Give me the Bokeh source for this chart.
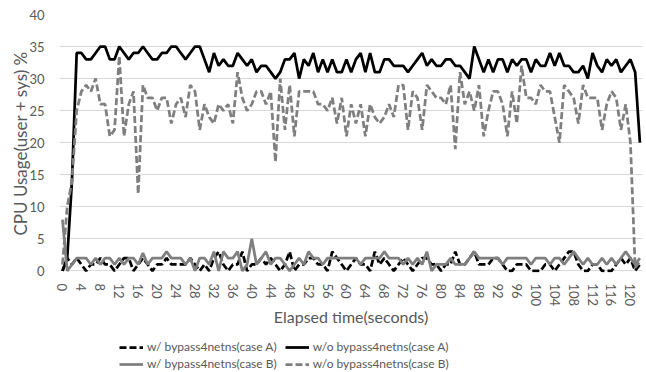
from bokeh.plotting import figure
from bokeh.models import Range1d, FixedTicker, Legend, LegendItem
from bokeh.layouts import column
from bokeh.embed import file_html
from bokeh.resources import INLINE

# elapsed time categories (seconds)
elapsed = list(range(0, 123))
x_tick_values = list(range(0, 121, 4))
y_tick_values = [0, 5, 10, 15, 20, 25, 30, 35, 40]

series_names = [
    "w/ bypass4netns(case A)",
    "w/o bypass4netns(case A)",
    "w/ bypass4netns(case B)",
    "w/o bypass4netns(case B)",
]

# w/ bypass4netns (case A)
with_a = [0, 2, 1, 2, 1, 0, 1, 1, 2, 1,
          1, 0, 1, 2, 2, 0, 1, 2, 1, 0,
          1, 1, 2, 1, 1, 1, 1, 2, 1, 0,
          1, 0, 2, 3, 1, 0, 1, 1, 3, 0,
          1, 1, 2, 1, 2, 1, 0, 1, 3, 0,
          1, 1, 2, 2, 1, 1, 0, 3, 2, 1,
          0, 1, 2, 1, 1, 0, 3, 1, 2, 1,
          0, 1, 2, 1, 0, 1, 2, 2, 1, 1,
          0, 1, 1, 3, 1, 1, 2, 3, 1, 1,
          1, 2, 2, 1, 0, 0, 1, 1, 1, 0,
          0, 0, 1, 1, 0, 1, 2, 3, 3, 1,
          0, 0, 1, 1, 0, 0, 0, 1, 2, 1,
          2, 0, 1]

# w/o bypass4netns (case A)
without_a = [0, 2, 14, 34, 34, 33, 33, 34, 35, 35,
             33, 33, 35, 34, 33, 34, 34, 35, 34, 33,
             33, 34, 34, 35, 35, 34, 33, 34, 35, 35,
             33, 31, 34, 32, 33, 32, 32, 34, 33, 32,
             33, 31, 32, 32, 31, 30, 31, 33, 33, 34,
             30, 33, 32, 34, 31, 33, 31, 33, 31, 31,
             33, 31, 33, 34, 31, 34, 31, 31, 33, 33,
             32, 32, 32, 31, 32, 33, 34, 32, 33, 32,
             32, 33, 33, 32, 32, 31, 30, 35, 33, 31,
             33, 31, 33, 33, 31, 33, 32, 33, 33, 31,
             33, 32, 32, 34, 32, 34, 32, 32, 31, 31,
             32, 30, 34, 32, 31, 33, 32, 33, 31, 32,
             33, 31, 20]

# w/ bypass4netns (case B)
with_b = [8, 0, 1, 2, 2, 2, 1, 2, 1, 2,
          2, 1, 2, 1, 2, 2, 1, 2.8, 1, 2,
          2, 2, 3, 2, 2, 2, 1, 2, 0, 2,
          2, 1, 3, 0, 3, 2, 2, 3, 0, 1,
          5, 1, 2, 3, 1, 2, 2, 1, 0, 1,
          2, 1, 3, 2, 2, 1, 2, 2, 2, 2,
          2, 2, 2, 1, 2, 2, 2, 2, 3, 2,
          2, 2, 1, 2, 1, 2, 1, 3, 0, 1,
          1, 1, 2, 1, 1, 1, 2, 3, 2, 2,
          2, 2, 2, 1, 2, 2, 2, 2, 2, 1,
          2, 2, 2, 1, 2, 2, 1, 2, 3, 2,
          1, 2, 1, 1, 2, 1, 2, 1, 2, 3,
          2, 1, 2]

# w/o bypass4netns (case B)
without_b = [1, 10, 14, 25, 28, 29, 28, 30, 26, 26,
             21, 22, 33.5, 21, 26, 28, 12, 29, 27, 27,
             25, 27, 27, 23, 26, 27, 24, 29, 28, 22,
             26, 24, 23, 26, 25, 26, 23, 31, 27, 25,
             26, 28, 28, 26, 28, 17, 30, 22, 29, 21,
             28, 28, 28, 28, 26, 26, 25, 27, 23, 27,
             21, 26, 23, 26, 21, 26, 24, 23, 24, 26,
             24, 29, 29, 22, 28, 27, 22, 29, 28, 27,
             27, 26, 29, 19, 31, 26, 28, 25, 29, 21,
             25, 28, 28, 26, 21, 28, 23, 32, 27, 27,
             26, 29, 28, 28, 24, 20, 29, 28, 27, 23,
             29, 27, 27, 27, 22, 26, 28, 27, 22, 26,
             20, 0.5, 1.5]

FONT = "Lato"
TXT = "#595959"
GRAY = "#7f7f7f"
LW = 2.75
DASH = "7 3"

p = figure(width=646, height=331, output_backend="svg", toolbar_location=None,
           x_range=Range1d(-0.63, 122.55), y_range=Range1d(-0.25, 40))
p.min_border_left = 59
p.min_border_right = 4
p.min_border_top = 14
p.min_border_bottom = 59
p.outline_line_color = None
p.background_fill_color = "white"
p.border_fill_color = "white"

p.xgrid.visible = False
p.ygrid.grid_line_color = "#d9d9d9"
p.ygrid.grid_line_width = 1
p.yaxis.ticker = FixedTicker(ticks=y_tick_values)
p.xaxis.ticker = FixedTicker(ticks=x_tick_values)

for ax in (p.xaxis[0], p.yaxis[0]):
    ax.axis_line_color = None
    ax.major_tick_line_color = None
    ax.minor_tick_line_color = None
    ax.major_label_text_font = FONT
    ax.major_label_text_color = TXT
    ax.major_label_text_font_size = "13px"
    ax.axis_label_text_font = FONT
    ax.axis_label_text_color = TXT
    ax.axis_label_text_font_style = "normal"
    ax.axis_label_text_font_size = "16px"

p.xaxis.major_label_orientation = "vertical"
p.xaxis.major_label_standoff = 5
p.xaxis.axis_label = "Elapsed time(seconds)"
p.xaxis.axis_label_standoff = -2
p.yaxis.major_label_standoff = 9
p.yaxis.axis_label = "CPU Usage(user + sys) %"
p.yaxis.axis_label_text_font_size = "17px"
p.yaxis.axis_label_standoff = -5

p.line(elapsed, with_a, line_color="black", line_width=LW, line_dash=DASH)
p.line(elapsed, without_a, line_color="black", line_width=LW)
p.line(elapsed, with_b, line_color=GRAY, line_width=LW)
p.line(elapsed, without_b, line_color=GRAY, line_width=LW, line_dash=DASH)

# legend strip below the chart (its sample lines lie outside its visible range)
lf = figure(width=646, height=41, output_backend="svg", toolbar_location=None,
            x_range=Range1d(1000, 1001), y_range=Range1d(1000, 1001),
            x_axis_location=None, y_axis_location=None)
lf.grid.visible = False
lf.outline_line_color = None
lf.min_border_left = 0
lf.min_border_right = 0
lf.min_border_top = 0
lf.min_border_bottom = 0

k_wa = lf.line(elapsed, with_a, line_color="black", line_width=LW, line_dash=DASH)
k_woa = lf.line(elapsed, without_a, line_color="black", line_width=LW)
k_wb = lf.line(elapsed, with_b, line_color=GRAY, line_width=LW)
k_wob = lf.line(elapsed, without_b, line_color=GRAY, line_width=LW, line_dash=DASH)

def make_legend(items, loc):
    lg = Legend(items=items, location=loc, orientation="horizontal")
    lg.background_fill_alpha = 0
    lg.border_line_alpha = 0
    lg.padding = 0
    lg.margin = 0
    lg.spacing = 8
    lg.glyph_width = 24
    lg.glyph_height = 14
    lg.label_standoff = 4
    lg.label_height = 14
    lg.label_text_font = FONT
    lg.label_text_font_size = "12px"
    lg.label_text_color = TXT
    return lg

leg1 = make_legend([LegendItem(label=series_names[0], renderers=[k_wa]),
                    LegendItem(label=series_names[1], renderers=[k_woa])], (60, 18))
leg2 = make_legend([LegendItem(label=series_names[2], renderers=[k_wb]),
                    LegendItem(label=series_names[3], renderers=[k_wob])], (60, 1))
lf.add_layout(leg1, "center")
lf.add_layout(leg2, "center")

layout = column(p, lf, spacing=0)
open("out.html", "w").write(file_html(layout, INLINE))
